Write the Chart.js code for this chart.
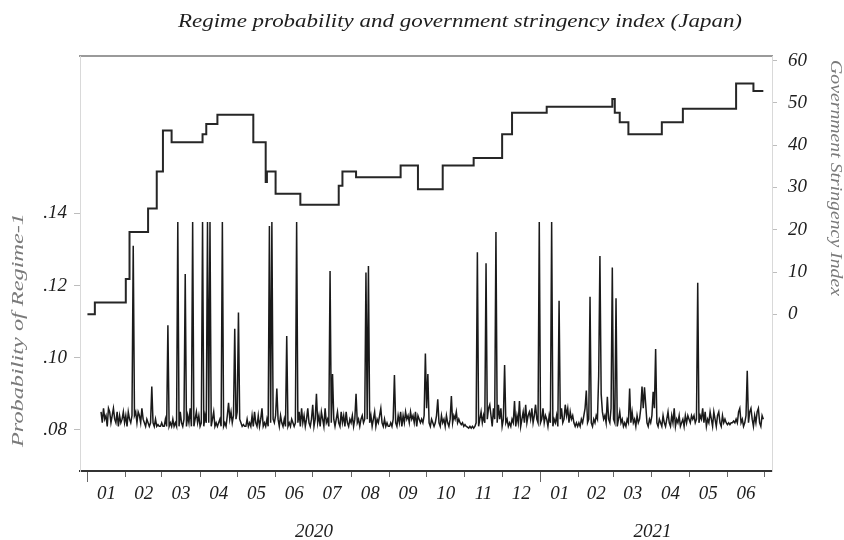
<!DOCTYPE html>
<html>
<head>
<meta charset="utf-8">
<script src="https://cdn.jsdelivr.net/npm/chart.js@4.4.1/dist/chart.umd.min.js"></script>
<style>
html,body{margin:0;padding:0;background:#fff;}
canvas{display:block;}
</style>
</head>
<body>
<canvas id="c" width="844" height="540" style="width:844px;height:540px"></canvas>
<script>
// ---------------- DATA ----------------
const chartTitle = 'Regime probability and government stringency index (Japan)';
const leftAxisTitle = 'Probability of Regime-1';
const rightAxisTitle = 'Government Stringency Index';

// Daily probability of Regime-1, first observation on this date
const probStartDate = '2020-01-12';
const probValues = [
  .085,.082,.086,.083,.084,.081,.086,.085,.082,.084,
  .086,.083,.082,.085,.081,.084,.082,.083,.085,.082,
  .084,.081,.085,.083,.082,.084,.131,.084,.085,.082,
  .085,.084,.082,.086,.083,.082,.081,.083,.082,.081,
  .082,.092,.082,.081,.083,.081,.0815,.081,.081,.082,
  .081,.081,.083,.081,.109,.081,.082,.081,.083,.081,
  .082,.081,.1376,.081,.085,.082,.081,.083,.1232,.081,
  .084,.082,.086,.081,.1376,.081,.083,.085,.082,.084,
  .081,.082,.1376,.081,.084,.082,.1376,.082,.1376,.081,
  .083,.085,.081,.082,.081,.082,.083,.081,.1376,.081,
  .082,.081,.084,.0875,.083,.085,.082,.084,.108,.083,
  .085,.1125,.083,.082,.081,.0815,.081,.081,.083,.081,
  .082,.081,.084,.081,.085,.082,.081,.084,.081,.083,
  .086,.081,.082,.081,.083,.081,.1365,.082,.1376,.083,
  .082,.084,.0915,.083,.081,.084,.082,.081,.083,.081,
  .106,.081,.082,.081,.083,.082,.081,.082,.1376,.082,
  .085,.081,.086,.082,.084,.081,.083,.086,.082,.081,
  .083,.087,.081,.083,.090,.082,.084,.081,.085,.083,
  .081,.086,.082,.083,.081,.124,.082,.0955,.083,.081,
  .083,.085,.082,.081,.085,.082,.084,.081,.085,.082,
  .081,.083,.082,.084,.081,.083,.090,.082,.083,.081,
  .083,.084,.082,.083,.1236,.083,.1254,.082,.084,.081,
  .083,.085,.081,.083,.082,.084,.086,.082,.081,.083,
  .081,.082,.081,.081,.082,.081,.083,.0952,.082,.081,
  .084,.082,.085,.081,.084,.082,.085,.083,.084,.082,
  .085,.083,.084,.082,.085,.081,.084,.083,.082,.083,
  .082,.084,.1012,.086,.0955,.082,.081,.083,.082,.081,
  .082,.084,.0885,.082,.081,.084,.082,.083,.081,.084,
  .082,.081,.083,.0894,.082,.084,.083,.085,.082,.083,
  .082,.0815,.082,.081,.0815,.081,.0808,.0805,.081,.0805,
  .081,.0805,.081,.082,.1292,.081,.083,.085,.082,.084,
  .082,.1262,.083,.086,.087,.084,.081,.086,.083,.1348,
  .082,.087,.083,.086,.081,.083,.098,.082,.083,.081,
  .082,.081,.083,.082,.088,.081,.084,.082,.088,.081,
  .083,.085,.082,.087,.082,.084,.085,.083,.086,.082,
  .084,.087,.083,.082,.1376,.082,.083,.086,.082,.084,
  .083,.081,.084,.082,.1376,.081,.083,.082,.084,.081,
  .1158,.083,.086,.082,.083,.087,.084,.086,.082,.085,
  .083,.084,.082,.081,.082,.081,.082,.081,.083,.082,
  .084,.086,.0909,.082,.083,.1169,.082,.081,.083,.082,
  .084,.083,.095,.1282,.090,.085,.083,.084,.082,.0892,
  .083,.082,.086,.125,.083,.082,.1165,.081,.083,.085,
  .082,.083,.081,.082,.081,.083,.082,.0915,.082,.085,
  .082,.083,.081,.084,.082,.083,.086,.092,.086,.0918,
  .087,.082,.081,.083,.082,.084,.0906,.086,.1024,.082,
  .081,.083,.082,.081,.084,.082,.081,.083,.085,.082,
  .081,.084,.082,.086,.081,.083,.082,.084,.081,.082,
  .083,.081,.084,.082,.084,.083,.082,.084,.083,.084,
  .082,.083,.1208,.082,.084,.083,.086,.082,.085,.081,
  .083,.082,.085,.083,.081,.085,.083,.081,.084,.085,
  .082,.081,.084,.082,.083,.082,.0815,.082,.0815,.082,
  .082,.0825,.082,.083,.082,.085,.086,.082,.083,.081,
  .082,.084,.0964,.082,.085,.086,.083,.081,.084,.082,
  .085,.086,.082,.081,.084,.083
];

// Government stringency index: dates where the level changes, and the new level
const stringencyDates = [
  '2020-01-01','2020-01-07','2020-02-01','2020-02-04','2020-02-19','2020-02-26',
  '2020-03-02','2020-03-09','2020-04-03','2020-04-06','2020-04-15','2020-05-14',
  '2020-05-24','2020-05-25','2020-06-01','2020-06-21','2020-07-22','2020-07-25',
  '2020-08-05','2020-09-10','2020-09-24','2020-10-14','2020-11-08','2020-12-01',
  '2020-12-09','2021-01-06','2021-02-28','2021-03-02','2021-03-06','2021-03-13',
  '2021-04-09','2021-04-26','2021-06-08','2021-06-22','2021-06-30'
];
const stringencyValues = [
  0, 2.78, 8.33, 19.44, 25, 33.8,
  43.5, 40.7, 42.6, 45, 47.2, 40.7,
  31.3, 33.8, 28.5, 25.9, 30.4, 33.8,
  32.4, 35.2, 29.6, 35.2, 37, 42.6,
  47.7, 49.1, 50.9, 47.7, 45.4, 42.6,
  45.4, 48.6, 54.6, 52.8, 52.8
];

const monthStartDates = [
  '2020-01-01','2020-02-01','2020-03-01','2020-04-01','2020-05-01','2020-06-01',
  '2020-07-01','2020-08-01','2020-09-01','2020-10-01','2020-11-01','2020-12-01',
  '2021-01-01','2021-02-01','2021-03-01','2021-04-01','2021-05-01','2021-06-01',
  '2021-07-01'
];
const monthLabels = ['01','02','03','04','05','06','07','08','09','10','11','12',
                     '01','02','03','04','05','06'];
const yearStartDates = ['2020-01-01','2021-01-01','2021-07-01'];
const yearLabels = ['2020','2021'];

const probTicks = [0.08, 0.10, 0.12, 0.14];
const probTickLabels = ['.08', '.10', '.12', '.14'];
const stringencyTicks = [0, 10, 20, 30, 40, 50, 60];

// ---------------- HELPERS ----------------
const ORIGIN = Date.UTC(2020, 0, 1);
function dayOf(s) {
  const p = s.split('-').map(Number);
  return (Date.UTC(p[0], p[1] - 1, p[2]) - ORIGIN) / 86400000;
}
const probStart = dayOf(probStartDate);
const probData = probValues.map((v, i) => ({ x: probStart + i, y: v }));
const stringencyData = stringencyDates.map((d, i) => ({ x: dayOf(d), y: stringencyValues[i] }));

const X_MIN = -6, X_MAX = 553;
const FONT = "'Liberation Serif', 'Times New Roman', serif";
const tickFont = { family: FONT, size: 19, style: 'italic' };
const TICK_COLOR = '#1e1e1e';

const textPlugin = {
  id: 'texts',
  afterDraw(chart) {
    const ctx = chart.ctx;
    function stretched(text, cx, cy, rot, font, color, targetW) {
      ctx.save();
      ctx.font = font;
      ctx.fillStyle = color;
      const w = ctx.measureText(text).width;
      ctx.translate(cx, cy);
      ctx.rotate(rot);
      ctx.scale(targetW / w, 1);
      ctx.textAlign = 'center';
      ctx.textBaseline = 'middle';
      ctx.fillText(text, 0, 0);
      ctx.restore();
    }
    stretched(chartTitle, 460, 22, 0, `italic 19px ${FONT}`, '#1e1e1e', 564);
    stretched(leftAxisTitle, 19, 330, -Math.PI / 2, `italic 17px ${FONT}`, '#7a7a7a', 234);
    stretched(rightAxisTitle, 835, 178, Math.PI / 2, `italic 17px ${FONT}`, '#7a7a7a', 236);
  }
};

new Chart(document.getElementById('c'), {
  type: 'line',
  data: {
    datasets: [
      {
        label: 'Probability of Regime-1',
        data: probData,
        xAxisID: 'x', yAxisID: 'y',
        borderColor: '#1a1a1a', borderWidth: 1.5,
        pointRadius: 0, tension: 0, fill: false
      },
      {
        label: 'Government Stringency Index',
        data: stringencyData,
        xAxisID: 'x', yAxisID: 'y2',
        borderColor: '#262626', borderWidth: 2,
        pointRadius: 0, stepped: 'before', fill: false
      }
    ]
  },
  options: {
    responsive: false,
    animation: false,
    devicePixelRatio: 1,
    layout: { padding: { top: 56, left: 0, right: 0, bottom: 0 } },
    plugins: { legend: { display: false }, tooltip: { enabled: false }, title: { display: false } },
    scales: {
      xt: {
        type: 'linear', position: 'top', min: X_MIN, max: X_MAX,
        ticks: { display: false },
        grid: { drawOnChartArea: false, drawTicks: false },
        border: { display: true, color: '#9a9a9a', width: 2 },
        afterFit: s => { s.height = 0; }
      },
      x: {
        type: 'linear', position: 'bottom', weight: 0, min: X_MIN, max: X_MAX,
        afterBuildTicks: s => { s.ticks = monthStartDates.map(d => ({ value: dayOf(d) })); },
        ticks: { display: false },
        grid: { drawOnChartArea: false, drawTicks: true, tickLength: 6, tickColor: '#666', tickWidth: 1 },
        border: { display: true, color: '#333', width: 2 },
        afterFit: s => { s.height = 6; }
      },
      xj: {
        type: 'linear', position: 'bottom', weight: 1, min: X_MIN, max: X_MAX,
        afterBuildTicks: s => { s.ticks = yearStartDates.slice(0, 2).map(d => ({ value: dayOf(d) })); },
        ticks: { display: false },
        grid: { drawOnChartArea: false, drawTicks: true, tickLength: 5, tickColor: '#666', tickWidth: 1 },
        border: { display: false },
        afterFit: s => { s.height = 5; }
      },
      xm: {
        type: 'linear', position: 'bottom', weight: 2, min: X_MIN, max: X_MAX,
        afterBuildTicks: s => {
          s.ticks = monthLabels.map((l, i) => ({ value: (dayOf(monthStartDates[i]) + dayOf(monthStartDates[i + 1])) / 2 }));
        },
        ticks: { autoSkip: false, maxRotation: 0, minRotation: 0, padding: 1, font: tickFont, color: TICK_COLOR,
                 callback: (v, i) => monthLabels[i] },
        grid: { drawOnChartArea: false, drawTicks: false },
        border: { display: false },
        afterFit: s => { s.height = 30; }
      },
      xy: {
        type: 'linear', position: 'bottom', weight: 3, min: X_MIN, max: X_MAX,
        afterBuildTicks: s => {
          s.ticks = yearLabels.map((l, i) => ({ value: (dayOf(yearStartDates[i]) + dayOf(yearStartDates[i + 1])) / 2 }));
        },
        ticks: { autoSkip: false, maxRotation: 0, minRotation: 0, padding: 9, font: tickFont, color: TICK_COLOR,
                 callback: (v, i) => yearLabels[i] },
        grid: { drawOnChartArea: false, drawTicks: false },
        border: { display: false },
        afterFit: s => { s.height = 28; }
      },
      y: {
        type: 'linear', position: 'left', min: 0.06864, max: 0.18357,
        afterBuildTicks: s => { s.ticks = probTicks.map(v => ({ value: v })); },
        ticks: { padding: 7, font: tickFont, color: TICK_COLOR, callback: (v, i) => probTickLabels[i] },
        grid: { drawOnChartArea: false, drawTicks: true, tickLength: 6, tickColor: '#bdbdbd' },
        border: { display: true, color: '#d9d9d9', width: 1 },
        afterFit: s => { s.width = 80; }
      },
      y2: {
        type: 'linear', position: 'right', min: -37.07, max: 61.1,
        afterBuildTicks: s => { s.ticks = stringencyTicks.map(v => ({ value: v })); },
        ticks: { padding: 11, font: tickFont, color: TICK_COLOR, callback: v => String(v) },
        grid: { drawOnChartArea: false, drawTicks: true, tickLength: 5, tickColor: '#bdbdbd' },
        border: { display: true, color: '#d9d9d9', width: 1 },
        afterFit: s => { s.width = 72; }
      }
    }
  },
  plugins: [textPlugin]
});
</script>
</body>
</html>
